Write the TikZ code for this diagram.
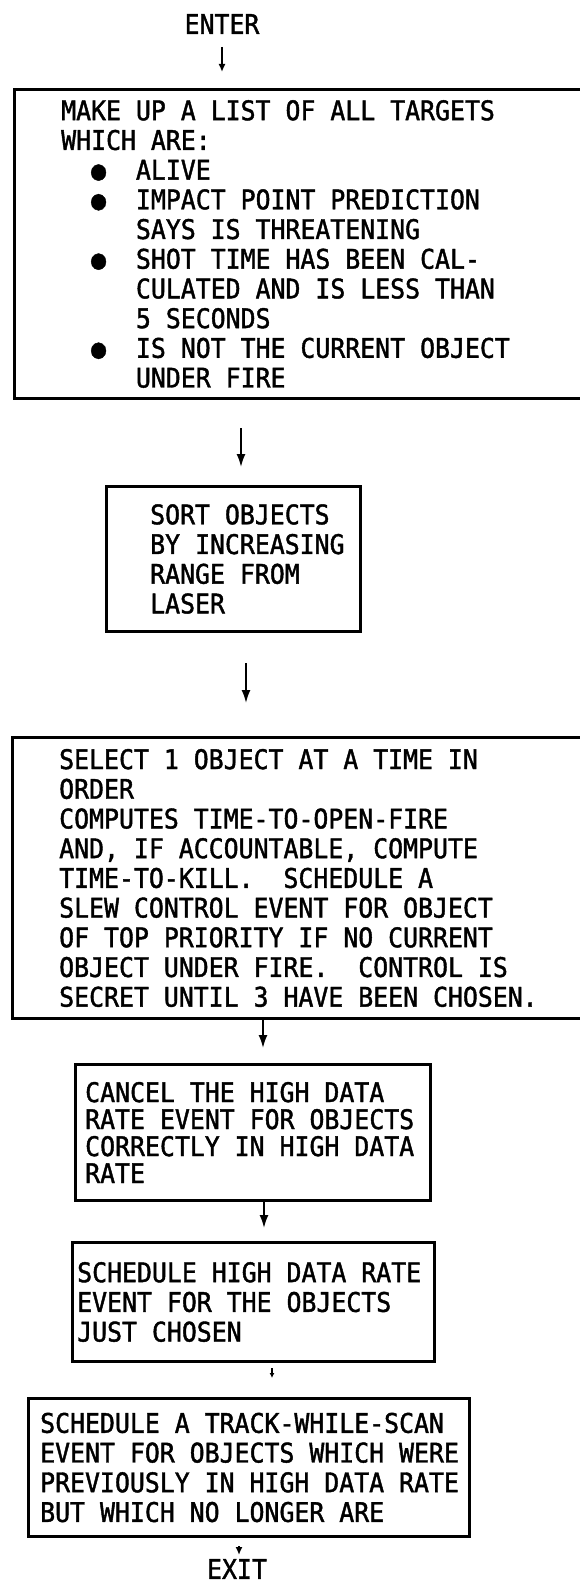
\documentclass[tikz,border=0pt]{standalone}
\usepackage{fontspec}
\newfontfamily\flowfont[FakeStretch=0.92, FakeBold=1.5]{DejaVu Sans Mono}
\usetikzlibrary{arrows.meta, calc, positioning}

\newcommand{\flowitem}{\phantom{XX}●\phantom{XX}}
\newcommand{\flowcont}{\phantom{XXXXX}}

\tikzset{
    stepbox/.style={draw, line width=3pt, inner sep=0pt, anchor=north west},
    steptext/.style={inner sep=0pt, align=left,
        font={\flowfont\fontsize{27pt}{29.7pt}\selectfont\frenchspacing}},
    flow/.style={-{Latex[length=13pt,width=9pt]}, line width=1.8pt},
    smallflow/.style={-{Latex[length=8pt,width=7pt]}, line width=1.6pt}
}

\begin{document}
\begin{tikzpicture}[x=1pt, y=1pt]
    \useasboundingbox (0,0) rectangle (580,-1587);
    \clip (0,0) rectangle (580,-1587);

    % entry
    \node[steptext] (enter) at (222,-24) {ENTER};

    % list of targets
    \node[stepbox, minimum width=587pt, minimum height=309pt] (list) at (13,-88) {};
    \node[steptext, right=48pt of list.west] (listtext) {MAKE UP A LIST OF ALL TARGETS\\
        WHICH ARE:\\
        \flowitem ALIVE\\
        \flowitem IMPACT POINT PREDICTION\\
        \flowcont SAYS IS THREATENING\\
        \flowitem SHOT TIME HAS BEEN CAL-\\
        \flowcont CULATED AND IS LESS THAN\\
        \flowcont 5 SECONDS\\
        \flowitem IS NOT THE CURRENT OBJECT\\
        \flowcont UNDER FIRE};

    % sort by range
    \node[stepbox, minimum width=254pt, minimum height=145pt] (sort) at (105,-485) {};
    \node[steptext, right=45pt of sort.west] (sorttext) {SORT OBJECTS\\
        BY INCREASING\\
        RANGE FROM\\
        LASER};

    % select one at a time
    \node[stepbox, minimum width=589pt, minimum height=281pt] (select) at (11,-736) {};
    \node[steptext, right=48pt of select.west] (selecttext) {SELECT 1 OBJECT AT A TIME IN\\
        ORDER\\
        COMPUTES TIME-TO-OPEN-FIRE\\
        AND, IF ACCOUNTABLE, COMPUTE\\
        TIME-TO-KILL.\ \ SCHEDULE A\\
        SLEW CONTROL EVENT FOR OBJECT\\
        OF TOP PRIORITY IF NO CURRENT\\
        OBJECT UNDER FIRE.\ \ CONTROL IS\\
        SECRET UNTIL 3 HAVE BEEN CHOSEN.};

    % cancel high data rate
    \node[stepbox, minimum width=355pt, minimum height=136pt] (cancel) at (74,-1063) {};
    \node[steptext, right=11pt of cancel.west,
        font={\flowfont\fontsize{27pt}{27pt}\selectfont}] (canceltext) {CANCEL THE HIGH DATA\\
        RATE EVENT FOR OBJECTS\\
        CORRECTLY IN HIGH DATA\\
        RATE};

    % schedule high data rate
    \node[stepbox, minimum width=362pt, minimum height=119pt] (high) at (71,-1241) {};
    \node[steptext, right=6pt of high.west] (hightext) {SCHEDULE HIGH DATA RATE\\
        EVENT FOR THE OBJECTS\\
        JUST CHOSEN};

    % track-while-scan
    \node[stepbox, minimum width=441pt, minimum height=138pt] (track) at (27,-1397) {};
    \node[steptext, right=13pt of track.west] (tracktext) {SCHEDULE A TRACK-WHILE-SCAN\\
        EVENT FOR OBJECTS WHICH WERE\\
        PREVIOUSLY IN HIGH DATA RATE\\
        BUT WHICH NO LONGER ARE};

    % exit
    \node[steptext] (exit) at (237,-1569) {EXIT};

    % arrows
    \draw[smallflow] ($(enter.center)+(0,-23)$) -- ($(list.north west)+(209,16)$);
    \draw[flow] ($(list.south west)+(228,-28)$) -- ($(sort.north west)+(136,18)$);
    \draw[flow] ($(sort.south west)+(141,-30)$) -- ($(select.north west)+(235,33)$);
    \draw[flow] ($(select.south west)+(252,0)$) -- ($(cancel.north west)+(189,15)$);
    \draw[flow] ($(cancel.south west)+(190,0)$) -- ($(high.north west)+(193,13)$);
    \draw[-{Latex[length=5pt,width=5pt]}, line width=1.2pt] ($(high.south west)+(201,-5)$) -- ($(track.north west)+(245,19)$);
    \draw[smallflow] ($(track.south west)+(212,-8)$) -- ($(exit.center)+(2,14)$);
\end{tikzpicture}
\end{document}
